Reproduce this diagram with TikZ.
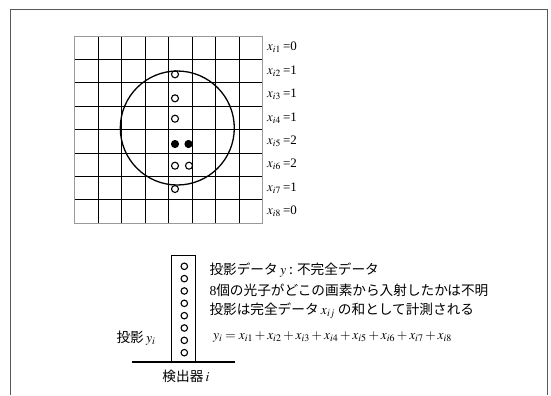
\documentclass[tikz,border=0pt]{standalone}
\usepackage{mathptmx}
\usepackage{fontspec}
\setmainfont{Liberation Serif}
\newfontfamily\jp{Noto Sans CJK JP}
\usetikzlibrary{positioning}

\begin{document}
\begin{tikzpicture}[x=1bp, y=-1bp,
	frameline/.style={draw=black!65, line width=0.8bp},
	cellline/.style={line width=1.1bp},
	photon/.style={circle, draw, line width=1.1bp, inner sep=0pt, minimum size=7bp},
	photonhit/.style={photon, fill=black},
	rowlabel/.style={anchor=west, inner sep=0pt, font=\fontsize{13}{15}\selectfont},
	caption/.style={anchor=west, inner sep=0pt, font=\jp\fontsize{13.7}{16}\selectfont}]
	\useasboundingbox (0,0) rectangle (551,395);
	% outer frame
	\draw[frameline] (10,395) -- (10,9) -- (547,9) -- (547,395);
	% pixel grid
	\foreach \k in {1,...,7} {
		\draw[cellline] ({74.7+23.5*\k},36) -- ({74.7+23.5*\k},223.3);
		\draw[cellline] (74.7,{36+23.41*\k}) -- (262.7,{36+23.41*\k});
	}
	\draw[black!40, line width=1bp] (74.7,36) rectangle (262.7,223.3);
	\draw[line width=1.3bp] (177.3,128) circle[radius=57];
	% photons
	\node[photon] (p2) at (175,74.3) {};
	\node[photon] (p3) at (175,98.3) {};
	\node[photon] (p4) at (175,118.7) {};
	\node[photonhit] (p5a) at (175,144) {};
	\node[photonhit] (p5b) at (188.5,144) {};
	\node[photon] (p6a) at (175,165.7) {};
	\node[photon] (p6b) at (189,165.7) {};
	\node[photon] (p7) at (175,189) {};
	% row sums
	\node[rowlabel] (r1) at (267,47.7) {$x_{i1}$\,=0};
	\node[rowlabel] (r2) at (267,71.1) {$x_{i2}$\,=1};
	\node[rowlabel] (r3) at (267,94.5) {$x_{i3}$\,=1};
	\node[rowlabel] (r4) at (267,117.9) {$x_{i4}$\,=1};
	\node[rowlabel] (r5) at (267,141.3) {$x_{i5}$\,=2};
	\node[rowlabel] (r6) at (267,164.7) {$x_{i6}$\,=2};
	\node[rowlabel] (r7) at (267,188.1) {$x_{i7}$\,=1};
	\node[rowlabel] (r8) at (267,211.5) {$x_{i8}$\,=0};
	% detector
	\draw[line width=1.3bp] (171.7,361.7) rectangle (195.7,255.3);
	\foreach \k in {0,...,7}
		\node[photon, minimum size=6.5bp] (d\k) at (184.3,{266.3+12.34*\k}) {};
	\draw[line width=1.8bp] (131.7,361.7) -- (235,361.7);
	\node[caption, anchor=center] (detname) at (186,376.7) {検出器\,$i$};
	\node[caption, anchor=east] (proj) at (155.7,338) {投影\,$y_i$};
	% explanation
	\node[caption] (line1) at (209.3,270) {投影データ\,$y$ : 不完全データ};
	\node[caption] (line2) at (209.3,290.7) {{\rmfamily 8}個の光子がどこの画素から入射したかは不明};
	\node[caption] (line3) at (209.3,311) {投影は完全データ\,$x_{ij}$ の和として計測される};
	\node[anchor=west, inner sep=0pt, font=\fontsize{13.5}{16}\selectfont] (sum) at (213,336.7)
		{$y_i = x_{i1} + x_{i2} + x_{i3} + x_{i4} + x_{i5} + x_{i6} + x_{i7} + x_{i8}$};
\end{tikzpicture}
\end{document}
